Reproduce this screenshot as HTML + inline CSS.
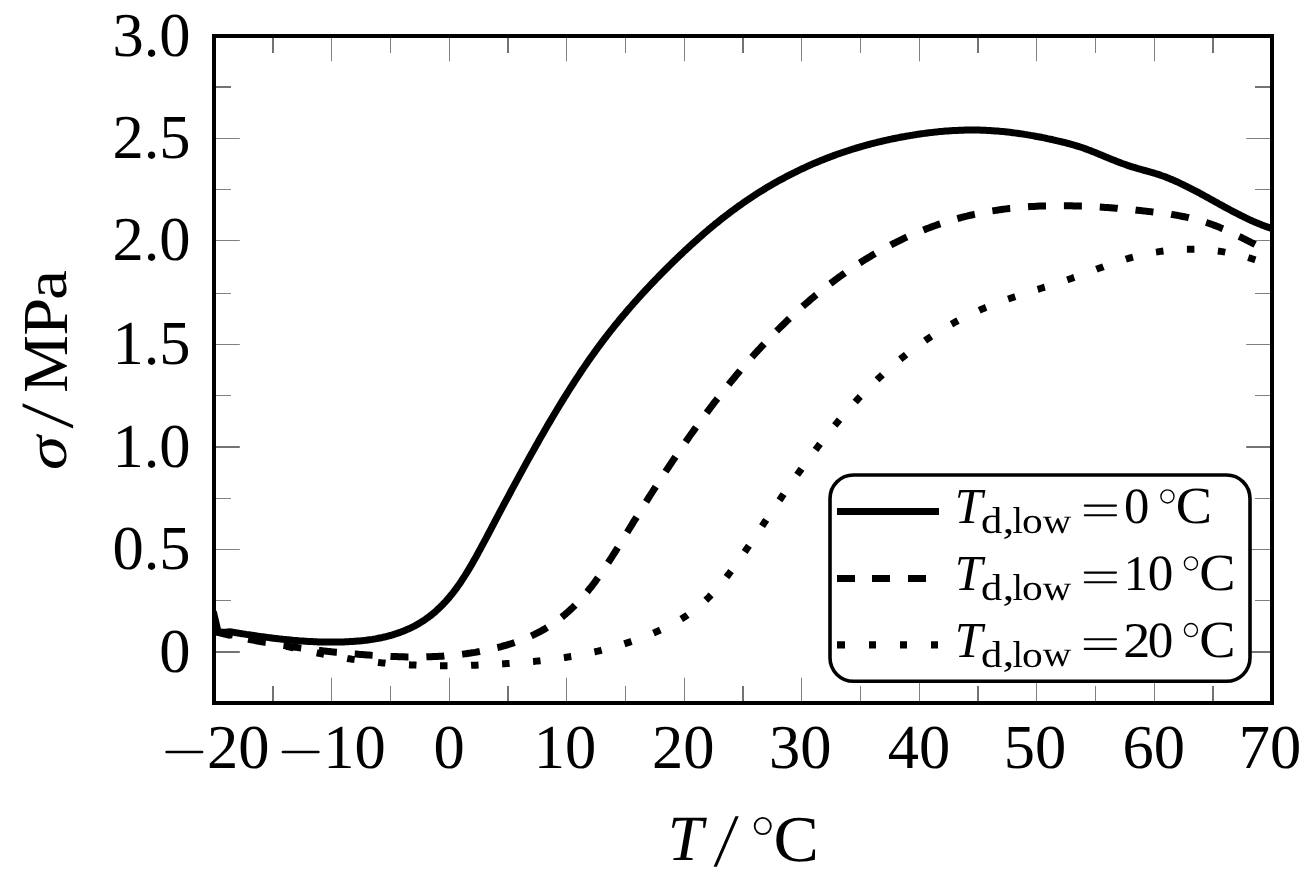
<!DOCTYPE html><html><head><meta charset="utf-8"><style>html,body{margin:0;padding:0;background:#fff;width:1315px;height:883px;overflow:hidden}svg{display:block;will-change:transform}text{font-family:"Liberation Serif",serif;fill:#000;text-rendering:geometricPrecision}</style></head><body>
<svg width="1315" height="883" viewBox="0 0 1315 883">
<rect width="1315" height="883" fill="#fff"/>
<path d="M331.5,703.0 V677.7 M331.5,36.0 V61.3 M390.5,703.0 V686.0 M390.5,36.0 V53.0 M449.5,703.0 V677.7 M449.5,36.0 V61.3 M566.5,703.0 V677.7 M566.5,36.0 V61.3 M625.5,703.0 V686.0 M625.5,36.0 V53.0 M684.5,703.0 V677.7 M684.5,36.0 V61.3 M801.5,703.0 V677.7 M801.5,36.0 V61.3 M860.5,703.0 V686.0 M860.5,36.0 V53.0 M919.5,703.0 V677.7 M919.5,36.0 V61.3 M1036.5,703.0 V677.7 M1036.5,36.0 V61.3 M1095.5,703.0 V686.0 M1095.5,36.0 V53.0 M1154.5,703.0 V677.7 M1154.5,36.0 V61.3 M214.0,138.5 H239.8 M1272.0,138.5 H1246.2 M214.0,189.5 H231.0 M1272.0,189.5 H1255.0 M214.0,240.5 H239.8 M1272.0,240.5 H1246.2 M214.0,293.5 H231.0 M1272.0,293.5 H1255.0 M214.0,344.5 H239.8 M1272.0,344.5 H1246.2 M214.0,395.5 H231.0 M1272.0,395.5 H1255.0 M214.0,498.5 H231.0 M1272.0,498.5 H1255.0 M214.0,549.5 H239.8 M1272.0,549.5 H1246.2 M214.0,600.5 H231.0 M1272.0,600.5 H1255.0" stroke="#808080" stroke-width="1" fill="none"/>
<path d="M273.0,703.0 V686.0 M273.0,36.0 V53.0 M508.0,703.0 V686.0 M508.0,36.0 V53.0 M743.0,703.0 V686.0 M743.0,36.0 V53.0 M978.0,703.0 V686.0 M978.0,36.0 V53.0 M1213.0,703.0 V686.0 M1213.0,36.0 V53.0 M214.0,87.0 H231.0 M1272.0,87.0 H1255.0 M214.0,447.0 H239.8 M1272.0,447.0 H1246.2 M214.0,652.0 H239.8 M1272.0,652.0 H1246.2" stroke="#737373" stroke-width="2" fill="none"/>
<clipPath id="c"><rect x="214.0" y="36.0" width="1058.0" height="667.0"/></clipPath>
<g clip-path="url(#c)" fill="none" stroke="#000" stroke-linejoin="round">
<path d="M214.0,632.0 L215.5,632.2 L217.0,632.5 L218.5,632.7 L220.0,632.9 L221.5,633.2 L223.0,633.4 L224.5,633.7 L226.0,633.9 L227.5,634.2 L229.0,634.5 L230.5,634.7 L232.0,635.0 L233.5,635.3 L235.0,635.6 L236.5,635.9 L238.0,636.1 L239.5,636.4 L241.0,636.7 L242.5,637.0 L244.0,637.3 L245.5,637.6 L247.0,637.9 L248.5,638.2 L250.0,638.5 L251.5,638.8 L253.0,639.1 L254.5,639.4 L256.0,639.8 L257.5,640.1 L259.0,640.4 L260.5,640.7 L262.0,641.0 L263.5,641.3 L265.0,641.7 L266.5,642.0 L268.0,642.3 L269.5,642.6 L271.0,643.0 L272.5,643.3 L274.0,643.6 L275.5,644.0 L277.0,644.3 L278.5,644.6 L280.0,644.9 L281.5,645.3 L283.0,645.6 L284.5,645.9 L286.0,646.3 L287.5,646.6 L289.0,646.9 L290.5,647.2 L292.0,647.6 L293.5,647.9 L295.0,648.2 L296.5,648.5 L298.0,648.9 L299.5,649.2 L301.0,649.5 L302.5,649.8 L304.0,650.2 L305.5,650.5 L307.0,650.8 L308.5,651.1 L310.0,651.4 L311.5,651.7 L313.0,652.1 L314.5,652.4 L316.0,652.7 L317.5,653.0 L319.0,653.3 L320.5,653.6 L322.0,653.9 L323.5,654.2 L325.0,654.5 L326.5,654.8 L328.0,655.0 L329.5,655.3 L331.0,655.6 L332.5,655.9 L334.0,656.2 L335.5,656.4 L337.0,656.7 L338.5,657.0 L340.0,657.2 L341.5,657.5 L343.0,657.7 L344.5,658.0 L346.0,658.2 L347.5,658.5 L349.0,658.7 L350.5,658.9 L352.0,659.2 L353.5,659.4 L355.0,659.6 L356.5,659.8 L358.0,660.0 L359.5,660.2 L361.0,660.5 L362.5,660.6 L364.0,660.8 L365.5,661.0 L367.0,661.2 L368.5,661.4 L370.0,661.6 L371.5,661.8 L373.0,661.9 L374.5,662.1 L376.0,662.3 L377.5,662.4 L379.0,662.6 L380.5,662.7 L382.0,662.9 L383.5,663.0 L385.0,663.1 L386.5,663.3 L388.0,663.4 L389.5,663.5 L391.0,663.7 L392.5,663.8 L394.0,663.9 L395.5,664.0 L397.0,664.1 L398.5,664.2 L400.0,664.3 L401.5,664.4 L403.0,664.5 L404.5,664.6 L406.0,664.7 L407.5,664.8 L409.0,664.8 L410.5,664.9 L412.0,665.0 L413.5,665.1 L415.0,665.1 L416.5,665.2 L418.0,665.2 L419.5,665.3 L421.0,665.4 L422.5,665.4 L424.0,665.4 L425.5,665.5 L427.0,665.5 L428.5,665.6 L430.0,665.6 L431.5,665.6 L433.0,665.7 L434.5,665.7 L436.0,665.7 L437.5,665.7 L439.0,665.7 L440.5,665.7 L442.0,665.7 L443.5,665.7 L445.0,665.8 L446.5,665.7 L448.0,665.7 L449.5,665.7 L451.0,665.7 L452.5,665.7 L454.0,665.7 L455.5,665.7 L457.0,665.7 L458.5,665.6 L460.0,665.6 L461.5,665.6 L463.0,665.6 L464.5,665.5 L466.0,665.5 L467.5,665.4 L469.0,665.4 L470.5,665.4 L472.0,665.3 L473.5,665.3 L475.0,665.2 L476.5,665.2 L478.0,665.1 L479.5,665.0 L481.0,665.0 L482.5,664.9 L484.0,664.8 L485.5,664.8 L487.0,664.7 L488.5,664.6 L490.0,664.6 L491.5,664.5 L493.0,664.4 L494.5,664.3 L496.0,664.2 L497.5,664.1 L499.0,664.1 L500.5,664.0 L502.0,663.9 L503.5,663.8 L505.0,663.7 L506.5,663.6 L508.0,663.5 L509.5,663.4 L511.0,663.3 L512.5,663.2 L514.0,663.1 L515.5,662.9 L517.0,662.8 L518.5,662.7 L520.0,662.6 L521.5,662.5 L523.0,662.4 L524.5,662.2 L526.0,662.1 L527.5,662.0 L529.0,661.8 L530.5,661.7 L532.0,661.5 L533.5,661.4 L535.0,661.3 L536.5,661.1 L538.0,660.9 L539.5,660.8 L541.0,660.6 L542.5,660.5 L544.0,660.3 L545.5,660.1 L547.0,659.9 L548.5,659.8 L550.0,659.6 L551.5,659.4 L553.0,659.2 L554.5,659.0 L556.0,658.8 L557.5,658.6 L559.0,658.4 L560.5,658.2 L562.0,657.9 L563.5,657.7 L565.0,657.5 L566.5,657.2 L568.0,657.0 L569.5,656.8 L571.0,656.5 L572.5,656.3 L574.0,656.0 L575.5,655.7 L577.0,655.5 L578.5,655.2 L580.0,654.9 L581.5,654.6 L583.0,654.3 L584.5,654.0 L586.0,653.7 L587.5,653.4 L589.0,653.1 L590.5,652.8 L592.0,652.5 L593.5,652.1 L595.0,651.8 L596.5,651.4 L598.0,651.1 L599.5,650.7 L601.0,650.4 L602.5,650.0 L604.0,649.6 L605.5,649.2 L607.0,648.9 L608.5,648.5 L610.0,648.0 L611.5,647.6 L613.0,647.2 L614.5,646.8 L616.0,646.4 L617.5,645.9 L619.0,645.5 L620.5,645.0 L622.0,644.6 L623.5,644.1 L625.0,643.6 L626.5,643.1 L628.0,642.6 L629.5,642.1 L631.0,641.6 L632.5,641.1 L634.0,640.6 L635.5,640.1 L637.0,639.5 L638.5,639.0 L640.0,638.4 L641.5,637.9 L643.0,637.3 L644.5,636.7 L646.0,636.1 L647.5,635.5 L649.0,634.9 L650.5,634.3 L652.0,633.7 L653.5,633.0 L655.0,632.4 L656.5,631.7 L658.0,631.1 L659.5,630.4 L661.0,629.7 L662.5,629.0 L664.0,628.3 L665.5,627.6 L667.0,626.9 L668.5,626.1 L670.0,625.4 L671.5,624.6 L673.0,623.8 L674.5,623.0 L676.0,622.1 L677.5,621.3 L679.0,620.4 L680.5,619.5 L682.0,618.6 L683.5,617.6 L685.0,616.7 L686.5,615.7 L688.0,614.6 L689.5,613.6 L691.0,612.5 L692.5,611.4 L694.0,610.3 L695.5,609.1 L697.0,607.9 L698.5,606.7 L700.0,605.4 L701.5,604.1 L703.0,602.8 L704.5,601.4 L706.0,600.0 L707.5,598.6 L709.0,597.1 L710.5,595.5 L712.0,594.0 L713.5,592.4 L715.0,590.7 L716.5,589.1 L718.0,587.4 L719.5,585.6 L721.0,583.8 L722.5,582.0 L724.0,580.2 L725.5,578.3 L727.0,576.4 L728.5,574.5 L730.0,572.5 L731.5,570.5 L733.0,568.5 L734.5,566.4 L736.0,564.4 L737.5,562.3 L739.0,560.2 L740.5,558.0 L742.0,555.9 L743.5,553.7 L745.0,551.5 L746.5,549.3 L748.0,547.1 L749.5,544.9 L751.0,542.7 L752.5,540.4 L754.0,538.2 L755.5,536.0 L757.0,533.7 L758.5,531.4 L760.0,529.2 L761.5,526.9 L763.0,524.7 L764.5,522.4 L766.0,520.2 L767.5,517.9 L769.0,515.7 L770.5,513.5 L772.0,511.2 L773.5,509.0 L775.0,506.8 L776.5,504.6 L778.0,502.4 L779.5,500.2 L781.0,498.0 L782.5,495.8 L784.0,493.6 L785.5,491.4 L787.0,489.2 L788.5,487.1 L790.0,484.9 L791.5,482.8 L793.0,480.7 L794.5,478.5 L796.0,476.4 L797.5,474.3 L799.0,472.2 L800.5,470.1 L802.0,468.0 L803.5,466.0 L805.0,463.9 L806.5,461.8 L808.0,459.8 L809.5,457.8 L811.0,455.8 L812.5,453.8 L814.0,451.8 L815.5,449.8 L817.0,447.8 L818.5,445.9 L820.0,443.9 L821.5,442.0 L823.0,440.1 L824.5,438.1 L826.0,436.3 L827.5,434.4 L829.0,432.5 L830.5,430.6 L832.0,428.8 L833.5,427.0 L835.0,425.2 L836.5,423.3 L838.0,421.6 L839.5,419.8 L841.0,418.0 L842.5,416.3 L844.0,414.5 L845.5,412.8 L847.0,411.1 L848.5,409.4 L850.0,407.7 L851.5,406.1 L853.0,404.4 L854.5,402.8 L856.0,401.1 L857.5,399.5 L859.0,397.9 L860.5,396.3 L862.0,394.8 L863.5,393.2 L865.0,391.7 L866.5,390.1 L868.0,388.6 L869.5,387.1 L871.0,385.6 L872.5,384.2 L874.0,382.7 L875.5,381.3 L877.0,379.8 L878.5,378.4 L880.0,377.0 L881.5,375.6 L883.0,374.2 L884.5,372.9 L886.0,371.5 L887.5,370.2 L889.0,368.8 L890.5,367.5 L892.0,366.2 L893.5,364.9 L895.0,363.6 L896.5,362.4 L898.0,361.1 L899.5,359.9 L901.0,358.7 L902.5,357.4 L904.0,356.2 L905.5,355.1 L907.0,353.9 L908.5,352.7 L910.0,351.6 L911.5,350.4 L913.0,349.3 L914.5,348.2 L916.0,347.1 L917.5,346.0 L919.0,344.9 L920.5,343.8 L922.0,342.7 L923.5,341.7 L925.0,340.7 L926.5,339.6 L928.0,338.6 L929.5,337.6 L931.0,336.6 L932.5,335.6 L934.0,334.7 L935.5,333.7 L937.0,332.8 L938.5,331.8 L940.0,330.9 L941.5,330.0 L943.0,329.1 L944.5,328.2 L946.0,327.3 L947.5,326.4 L949.0,325.6 L950.5,324.7 L952.0,323.9 L953.5,323.0 L955.0,322.2 L956.5,321.4 L958.0,320.6 L959.5,319.8 L961.0,319.0 L962.5,318.3 L964.0,317.5 L965.5,316.7 L967.0,316.0 L968.5,315.3 L970.0,314.5 L971.5,313.8 L973.0,313.1 L974.5,312.4 L976.0,311.7 L977.5,311.1 L979.0,310.4 L980.5,309.7 L982.0,309.1 L983.5,308.5 L985.0,307.8 L986.5,307.2 L988.0,306.6 L989.5,306.0 L991.0,305.4 L992.5,304.8 L994.0,304.2 L995.5,303.6 L997.0,303.1 L998.5,302.5 L1000.0,301.9 L1001.5,301.4 L1003.0,300.8 L1004.5,300.3 L1006.0,299.8 L1007.5,299.2 L1009.0,298.7 L1010.5,298.2 L1012.0,297.7 L1013.5,297.2 L1015.0,296.7 L1016.5,296.2 L1018.0,295.7 L1019.5,295.2 L1021.0,294.7 L1022.5,294.2 L1024.0,293.7 L1025.5,293.2 L1027.0,292.8 L1028.5,292.3 L1030.0,291.8 L1031.5,291.3 L1033.0,290.9 L1034.5,290.4 L1036.0,289.9 L1037.5,289.4 L1039.0,289.0 L1040.5,288.5 L1042.0,288.0 L1043.5,287.5 L1045.0,287.1 L1046.5,286.6 L1048.0,286.1 L1049.5,285.6 L1051.0,285.2 L1052.5,284.7 L1054.0,284.2 L1055.5,283.7 L1057.0,283.2 L1058.5,282.7 L1060.0,282.2 L1061.5,281.8 L1063.0,281.3 L1064.5,280.7 L1066.0,280.2 L1067.5,279.7 L1069.0,279.2 L1070.5,278.7 L1072.0,278.2 L1073.5,277.6 L1075.0,277.1 L1076.5,276.6 L1078.0,276.0 L1079.5,275.5 L1081.0,274.9 L1082.5,274.4 L1084.0,273.8 L1085.5,273.3 L1087.0,272.7 L1088.5,272.2 L1090.0,271.6 L1091.5,271.1 L1093.0,270.5 L1094.5,269.9 L1096.0,269.4 L1097.5,268.8 L1099.0,268.3 L1100.5,267.7 L1102.0,267.2 L1103.5,266.6 L1105.0,266.1 L1106.5,265.6 L1108.0,265.0 L1109.5,264.5 L1111.0,264.0 L1112.5,263.5 L1114.0,263.0 L1115.5,262.5 L1117.0,262.0 L1118.5,261.5 L1120.0,261.0 L1121.5,260.5 L1123.0,260.0 L1124.5,259.6 L1126.0,259.1 L1127.5,258.7 L1129.0,258.2 L1130.5,257.8 L1132.0,257.4 L1133.5,257.0 L1135.0,256.6 L1136.5,256.2 L1138.0,255.8 L1139.5,255.5 L1141.0,255.1 L1142.5,254.8 L1144.0,254.4 L1145.5,254.1 L1147.0,253.8 L1148.5,253.5 L1150.0,253.2 L1151.5,252.9 L1153.0,252.6 L1154.5,252.4 L1156.0,252.1 L1157.5,251.9 L1159.0,251.6 L1160.5,251.4 L1162.0,251.2 L1163.5,251.0 L1165.0,250.8 L1166.5,250.6 L1168.0,250.4 L1169.5,250.3 L1171.0,250.1 L1172.5,250.0 L1174.0,249.9 L1175.5,249.8 L1177.0,249.7 L1178.5,249.6 L1180.0,249.5 L1181.5,249.4 L1183.0,249.3 L1184.5,249.3 L1186.0,249.2 L1187.5,249.2 L1189.0,249.2 L1190.5,249.2 L1192.0,249.2 L1193.5,249.2 L1195.0,249.2 L1196.5,249.3 L1198.0,249.3 L1199.5,249.4 L1201.0,249.4 L1202.5,249.5 L1204.0,249.6 L1205.5,249.7 L1207.0,249.8 L1208.5,250.0 L1210.0,250.1 L1211.5,250.3 L1213.0,250.4 L1214.5,250.6 L1216.0,250.8 L1217.5,251.0 L1219.0,251.2 L1220.5,251.4 L1222.0,251.6 L1223.5,251.9 L1225.0,252.1 L1226.5,252.4 L1228.0,252.7 L1229.5,253.0 L1231.0,253.3 L1232.5,253.6 L1234.0,253.9 L1235.5,254.2 L1237.0,254.6 L1238.5,254.9 L1240.0,255.3 L1241.5,255.7 L1243.0,256.1 L1244.5,256.5 L1246.0,256.9 L1247.5,257.3 L1249.0,257.8 L1250.5,258.2 L1252.0,258.7 L1253.5,259.2 L1255.0,259.7 L1256.5,260.2 L1258.0,260.7 L1259.5,261.2 L1261.0,261.8 L1262.5,262.3 L1264.0,262.9 L1265.5,263.5 L1267.0,264.1 L1268.5,264.7 L1270.0,265.3 L1271.5,265.9 L1272.0,266.1" stroke-width="7.0" stroke-dasharray="7.5 23.570" stroke-dashoffset="19.466"/>
<path d="M214.0,631.4 L215.5,631.8 L217.0,632.2 L218.5,632.5 L220.0,632.9 L221.5,633.3 L223.0,633.6 L224.5,634.0 L226.0,634.3 L227.5,634.7 L229.0,635.0 L230.5,635.4 L232.0,635.7 L233.5,636.0 L235.0,636.4 L236.5,636.7 L238.0,637.0 L239.5,637.3 L241.0,637.7 L242.5,638.0 L244.0,638.3 L245.5,638.6 L247.0,638.9 L248.5,639.2 L250.0,639.5 L251.5,639.8 L253.0,640.1 L254.5,640.4 L256.0,640.7 L257.5,641.0 L259.0,641.3 L260.5,641.5 L262.0,641.8 L263.5,642.1 L265.0,642.4 L266.5,642.6 L268.0,642.9 L269.5,643.2 L271.0,643.4 L272.5,643.7 L274.0,643.9 L275.5,644.2 L277.0,644.4 L278.5,644.7 L280.0,644.9 L281.5,645.2 L283.0,645.4 L284.5,645.6 L286.0,645.9 L287.5,646.1 L289.0,646.3 L290.5,646.6 L292.0,646.8 L293.5,647.0 L295.0,647.2 L296.5,647.4 L298.0,647.6 L299.5,647.9 L301.0,648.1 L302.5,648.3 L304.0,648.5 L305.5,648.7 L307.0,648.9 L308.5,649.1 L310.0,649.3 L311.5,649.4 L313.0,649.6 L314.5,649.8 L316.0,650.0 L317.5,650.2 L319.0,650.4 L320.5,650.5 L322.0,650.7 L323.5,650.9 L325.0,651.1 L326.5,651.2 L328.0,651.4 L329.5,651.5 L331.0,651.7 L332.5,651.9 L334.0,652.0 L335.5,652.2 L337.0,652.3 L338.5,652.5 L340.0,652.6 L341.5,652.8 L343.0,652.9 L344.5,653.1 L346.0,653.2 L347.5,653.3 L349.0,653.5 L350.5,653.6 L352.0,653.7 L353.5,653.9 L355.0,654.0 L356.5,654.1 L358.0,654.2 L359.5,654.4 L361.0,654.5 L362.5,654.6 L364.0,654.7 L365.5,654.8 L367.0,654.9 L368.5,655.0 L370.0,655.1 L371.5,655.3 L373.0,655.4 L374.5,655.5 L376.0,655.6 L377.5,655.6 L379.0,655.7 L380.5,655.8 L382.0,655.9 L383.5,656.0 L385.0,656.1 L386.5,656.2 L388.0,656.2 L389.5,656.3 L391.0,656.4 L392.5,656.4 L394.0,656.5 L395.5,656.6 L397.0,656.6 L398.5,656.7 L400.0,656.7 L401.5,656.8 L403.0,656.8 L404.5,656.8 L406.0,656.9 L407.5,656.9 L409.0,656.9 L410.5,656.9 L412.0,656.9 L413.5,657.0 L415.0,657.0 L416.5,657.0 L418.0,657.0 L419.5,656.9 L421.0,656.9 L422.5,656.9 L424.0,656.9 L425.5,656.9 L427.0,656.8 L428.5,656.8 L430.0,656.7 L431.5,656.7 L433.0,656.6 L434.5,656.6 L436.0,656.5 L437.5,656.4 L439.0,656.3 L440.5,656.2 L442.0,656.2 L443.5,656.1 L445.0,655.9 L446.5,655.8 L448.0,655.7 L449.5,655.6 L451.0,655.5 L452.5,655.3 L454.0,655.2 L455.5,655.0 L457.0,654.9 L458.5,654.7 L460.0,654.5 L461.5,654.3 L463.0,654.1 L464.5,653.9 L466.0,653.7 L467.5,653.5 L469.0,653.3 L470.5,653.1 L472.0,652.8 L473.5,652.6 L475.0,652.4 L476.5,652.1 L478.0,651.8 L479.5,651.6 L481.0,651.3 L482.5,651.0 L484.0,650.7 L485.5,650.4 L487.0,650.0 L488.5,649.7 L490.0,649.4 L491.5,649.0 L493.0,648.7 L494.5,648.3 L496.0,647.9 L497.5,647.6 L499.0,647.2 L500.5,646.8 L502.0,646.4 L503.5,645.9 L505.0,645.5 L506.5,645.1 L508.0,644.6 L509.5,644.2 L511.0,643.7 L512.5,643.2 L514.0,642.7 L515.5,642.2 L517.0,641.7 L518.5,641.2 L520.0,640.6 L521.5,640.0 L523.0,639.5 L524.5,638.9 L526.0,638.2 L527.5,637.6 L529.0,637.0 L530.5,636.3 L532.0,635.6 L533.5,634.9 L535.0,634.2 L536.5,633.4 L538.0,632.7 L539.5,631.9 L541.0,631.1 L542.5,630.2 L544.0,629.4 L545.5,628.5 L547.0,627.6 L548.5,626.6 L550.0,625.7 L551.5,624.7 L553.0,623.7 L554.5,622.6 L556.0,621.5 L557.5,620.4 L559.0,619.3 L560.5,618.2 L562.0,617.0 L563.5,615.7 L565.0,614.5 L566.5,613.2 L568.0,611.9 L569.5,610.5 L571.0,609.1 L572.5,607.7 L574.0,606.3 L575.5,604.8 L577.0,603.2 L578.5,601.7 L580.0,600.1 L581.5,598.4 L583.0,596.8 L584.5,595.0 L586.0,593.3 L587.5,591.5 L589.0,589.6 L590.5,587.8 L592.0,585.8 L593.5,583.9 L595.0,581.9 L596.5,579.8 L598.0,577.7 L599.5,575.6 L601.0,573.5 L602.5,571.3 L604.0,569.1 L605.5,566.8 L607.0,564.5 L608.5,562.2 L610.0,559.9 L611.5,557.6 L613.0,555.2 L614.5,552.8 L616.0,550.5 L617.5,548.0 L619.0,545.6 L620.5,543.2 L622.0,540.8 L623.5,538.3 L625.0,535.9 L626.5,533.4 L628.0,531.0 L629.5,528.5 L631.0,526.1 L632.5,523.6 L634.0,521.2 L635.5,518.8 L637.0,516.4 L638.5,513.9 L640.0,511.5 L641.5,509.1 L643.0,506.7 L644.5,504.4 L646.0,502.0 L647.5,499.6 L649.0,497.2 L650.5,494.9 L652.0,492.5 L653.5,490.2 L655.0,487.8 L656.5,485.5 L658.0,483.2 L659.5,480.9 L661.0,478.6 L662.5,476.3 L664.0,474.0 L665.5,471.7 L667.0,469.4 L668.5,467.2 L670.0,464.9 L671.5,462.7 L673.0,460.4 L674.5,458.2 L676.0,456.0 L677.5,453.8 L679.0,451.6 L680.5,449.4 L682.0,447.2 L683.5,445.0 L685.0,442.9 L686.5,440.7 L688.0,438.6 L689.5,436.4 L691.0,434.3 L692.5,432.2 L694.0,430.1 L695.5,428.0 L697.0,425.9 L698.5,423.8 L700.0,421.8 L701.5,419.7 L703.0,417.7 L704.5,415.7 L706.0,413.6 L707.5,411.6 L709.0,409.6 L710.5,407.6 L712.0,405.7 L713.5,403.7 L715.0,401.7 L716.5,399.8 L718.0,397.9 L719.5,395.9 L721.0,394.0 L722.5,392.1 L724.0,390.3 L725.5,388.4 L727.0,386.5 L728.5,384.7 L730.0,382.8 L731.5,381.0 L733.0,379.2 L734.5,377.4 L736.0,375.6 L737.5,373.8 L739.0,372.0 L740.5,370.2 L742.0,368.5 L743.5,366.7 L745.0,365.0 L746.5,363.3 L748.0,361.6 L749.5,359.9 L751.0,358.2 L752.5,356.5 L754.0,354.8 L755.5,353.2 L757.0,351.5 L758.5,349.9 L760.0,348.3 L761.5,346.7 L763.0,345.1 L764.5,343.5 L766.0,341.9 L767.5,340.3 L769.0,338.8 L770.5,337.2 L772.0,335.7 L773.5,334.1 L775.0,332.6 L776.5,331.1 L778.0,329.6 L779.5,328.1 L781.0,326.6 L782.5,325.2 L784.0,323.7 L785.5,322.3 L787.0,320.8 L788.5,319.4 L790.0,318.0 L791.5,316.6 L793.0,315.2 L794.5,313.8 L796.0,312.4 L797.5,311.1 L799.0,309.7 L800.5,308.3 L802.0,307.0 L803.5,305.7 L805.0,304.4 L806.5,303.1 L808.0,301.8 L809.5,300.5 L811.0,299.2 L812.5,297.9 L814.0,296.7 L815.5,295.4 L817.0,294.2 L818.5,293.0 L820.0,291.8 L821.5,290.5 L823.0,289.3 L824.5,288.2 L826.0,287.0 L827.5,285.8 L829.0,284.6 L830.5,283.5 L832.0,282.4 L833.5,281.2 L835.0,280.1 L836.5,279.0 L838.0,277.9 L839.5,276.8 L841.0,275.7 L842.5,274.6 L844.0,273.6 L845.5,272.5 L847.0,271.5 L848.5,270.4 L850.0,269.4 L851.5,268.4 L853.0,267.4 L854.5,266.4 L856.0,265.4 L857.5,264.4 L859.0,263.4 L860.5,262.5 L862.0,261.5 L863.5,260.6 L865.0,259.6 L866.5,258.7 L868.0,257.8 L869.5,256.9 L871.0,256.0 L872.5,255.1 L874.0,254.2 L875.5,253.3 L877.0,252.5 L878.5,251.6 L880.0,250.8 L881.5,249.9 L883.0,249.1 L884.5,248.3 L886.0,247.5 L887.5,246.7 L889.0,245.9 L890.5,245.1 L892.0,244.3 L893.5,243.5 L895.0,242.8 L896.5,242.0 L898.0,241.3 L899.5,240.6 L901.0,239.8 L902.5,239.1 L904.0,238.4 L905.5,237.7 L907.0,237.0 L908.5,236.3 L910.0,235.7 L911.5,235.0 L913.0,234.3 L914.5,233.7 L916.0,233.1 L917.5,232.4 L919.0,231.8 L920.5,231.2 L922.0,230.6 L923.5,230.0 L925.0,229.4 L926.5,228.8 L928.0,228.2 L929.5,227.7 L931.0,227.1 L932.5,226.6 L934.0,226.0 L935.5,225.5 L937.0,224.9 L938.5,224.4 L940.0,223.9 L941.5,223.4 L943.0,222.9 L944.5,222.4 L946.0,222.0 L947.5,221.5 L949.0,221.0 L950.5,220.6 L952.0,220.1 L953.5,219.7 L955.0,219.2 L956.5,218.8 L958.0,218.4 L959.5,218.0 L961.0,217.6 L962.5,217.2 L964.0,216.8 L965.5,216.4 L967.0,216.1 L968.5,215.7 L970.0,215.3 L971.5,215.0 L973.0,214.7 L974.5,214.3 L976.0,214.0 L977.5,213.7 L979.0,213.4 L980.5,213.1 L982.0,212.8 L983.5,212.5 L985.0,212.2 L986.5,211.9 L988.0,211.6 L989.5,211.4 L991.0,211.1 L992.5,210.9 L994.0,210.6 L995.5,210.4 L997.0,210.2 L998.5,209.9 L1000.0,209.7 L1001.5,209.5 L1003.0,209.3 L1004.5,209.1 L1006.0,208.9 L1007.5,208.7 L1009.0,208.5 L1010.5,208.4 L1012.0,208.2 L1013.5,208.0 L1015.0,207.9 L1016.5,207.7 L1018.0,207.6 L1019.5,207.4 L1021.0,207.3 L1022.5,207.2 L1024.0,207.1 L1025.5,206.9 L1027.0,206.8 L1028.5,206.7 L1030.0,206.6 L1031.5,206.5 L1033.0,206.4 L1034.5,206.4 L1036.0,206.3 L1037.5,206.2 L1039.0,206.1 L1040.5,206.1 L1042.0,206.0 L1043.5,206.0 L1045.0,205.9 L1046.5,205.9 L1048.0,205.8 L1049.5,205.8 L1051.0,205.8 L1052.5,205.8 L1054.0,205.7 L1055.5,205.7 L1057.0,205.7 L1058.5,205.7 L1060.0,205.7 L1061.5,205.7 L1063.0,205.7 L1064.5,205.7 L1066.0,205.7 L1067.5,205.7 L1069.0,205.8 L1070.5,205.8 L1072.0,205.8 L1073.5,205.9 L1075.0,205.9 L1076.5,205.9 L1078.0,206.0 L1079.5,206.0 L1081.0,206.1 L1082.5,206.1 L1084.0,206.2 L1085.5,206.3 L1087.0,206.3 L1088.5,206.4 L1090.0,206.5 L1091.5,206.6 L1093.0,206.6 L1094.5,206.7 L1096.0,206.8 L1097.5,206.9 L1099.0,207.0 L1100.5,207.1 L1102.0,207.2 L1103.5,207.3 L1105.0,207.4 L1106.5,207.5 L1108.0,207.6 L1109.5,207.7 L1111.0,207.8 L1112.5,208.0 L1114.0,208.1 L1115.5,208.2 L1117.0,208.3 L1118.5,208.5 L1120.0,208.6 L1121.5,208.7 L1123.0,208.9 L1124.5,209.0 L1126.0,209.1 L1127.5,209.3 L1129.0,209.4 L1130.5,209.6 L1132.0,209.7 L1133.5,209.9 L1135.0,210.0 L1136.5,210.2 L1138.0,210.3 L1139.5,210.5 L1141.0,210.6 L1142.5,210.8 L1144.0,210.9 L1145.5,211.1 L1147.0,211.3 L1148.5,211.4 L1150.0,211.6 L1151.5,211.8 L1153.0,211.9 L1154.5,212.1 L1156.0,212.3 L1157.5,212.5 L1159.0,212.7 L1160.5,212.9 L1162.0,213.1 L1163.5,213.3 L1165.0,213.5 L1166.5,213.7 L1168.0,213.9 L1169.5,214.1 L1171.0,214.3 L1172.5,214.6 L1174.0,214.8 L1175.5,215.1 L1177.0,215.3 L1178.5,215.6 L1180.0,215.9 L1181.5,216.2 L1183.0,216.5 L1184.5,216.8 L1186.0,217.1 L1187.5,217.4 L1189.0,217.8 L1190.5,218.1 L1192.0,218.5 L1193.5,218.8 L1195.0,219.2 L1196.5,219.6 L1198.0,220.0 L1199.5,220.4 L1201.0,220.8 L1202.5,221.3 L1204.0,221.7 L1205.5,222.2 L1207.0,222.7 L1208.5,223.2 L1210.0,223.7 L1211.5,224.3 L1213.0,224.8 L1214.5,225.4 L1216.0,225.9 L1217.5,226.5 L1219.0,227.1 L1220.5,227.8 L1222.0,228.4 L1223.5,229.0 L1225.0,229.7 L1226.5,230.4 L1228.0,231.1 L1229.5,231.7 L1231.0,232.4 L1232.5,233.2 L1234.0,233.9 L1235.5,234.6 L1237.0,235.3 L1238.5,236.1 L1240.0,236.8 L1241.5,237.5 L1243.0,238.3 L1244.5,239.0 L1246.0,239.8 L1247.5,240.6 L1249.0,241.3 L1250.5,242.1 L1252.0,242.8 L1253.5,243.6 L1255.0,244.3 L1256.5,245.1 L1258.0,245.8 L1259.5,246.6 L1261.0,247.3 L1262.5,248.0 L1264.0,248.8 L1265.5,249.5 L1267.0,250.2 L1268.5,250.9 L1270.0,251.6 L1271.5,252.3 L1272.0,252.5" stroke-width="7.0" stroke-dasharray="18.0 17.899" stroke-dashoffset="0.899"/>
<path d="M213.3,611.5 L218.0,631.2 L222.0,632.3 L226.0,632.2 L229.8,631.7 L231.3,631.9 L232.8,632.2 L234.3,632.4 L235.8,632.7 L237.3,632.9 L238.8,633.2 L240.3,633.4 L241.8,633.7 L243.3,633.9 L244.8,634.1 L246.3,634.4 L247.8,634.6 L249.3,634.8 L250.8,635.1 L252.3,635.3 L253.8,635.5 L255.3,635.7 L256.8,636.0 L258.3,636.2 L259.8,636.4 L261.3,636.6 L262.8,636.8 L264.3,637.0 L265.8,637.2 L267.3,637.4 L268.8,637.6 L270.3,637.8 L271.8,638.0 L273.3,638.2 L274.8,638.4 L276.3,638.5 L277.8,638.7 L279.3,638.9 L280.8,639.1 L282.3,639.2 L283.8,639.4 L285.3,639.5 L286.8,639.7 L288.3,639.8 L289.8,640.0 L291.3,640.1 L292.8,640.3 L294.3,640.4 L295.8,640.5 L297.3,640.6 L298.8,640.8 L300.3,640.9 L301.8,641.0 L303.3,641.1 L304.8,641.2 L306.3,641.3 L307.8,641.4 L309.3,641.5 L310.8,641.5 L312.3,641.6 L313.8,641.7 L315.3,641.8 L316.8,641.8 L318.3,641.9 L319.8,641.9 L321.3,642.0 L322.8,642.0 L324.3,642.0 L325.8,642.1 L327.3,642.1 L328.8,642.1 L330.3,642.1 L331.8,642.1 L333.3,642.1 L334.8,642.1 L336.3,642.1 L337.8,642.0 L339.3,642.0 L340.8,642.0 L342.3,641.9 L343.8,641.9 L345.3,641.8 L346.8,641.8 L348.3,641.7 L349.8,641.6 L351.3,641.5 L352.8,641.4 L354.3,641.3 L355.8,641.2 L357.3,641.1 L358.8,641.0 L360.3,640.9 L361.8,640.7 L363.3,640.6 L364.8,640.4 L366.3,640.2 L367.8,640.0 L369.3,639.8 L370.8,639.6 L372.3,639.4 L373.8,639.1 L375.3,638.9 L376.8,638.6 L378.3,638.3 L379.8,638.0 L381.3,637.7 L382.8,637.4 L384.3,637.0 L385.8,636.7 L387.3,636.3 L388.8,635.9 L390.3,635.5 L391.8,635.1 L393.3,634.6 L394.8,634.1 L396.3,633.7 L397.8,633.1 L399.3,632.6 L400.8,632.1 L402.3,631.5 L403.8,630.9 L405.3,630.3 L406.8,629.6 L408.3,629.0 L409.8,628.3 L411.3,627.6 L412.8,626.8 L414.3,626.1 L415.8,625.3 L417.3,624.4 L418.8,623.6 L420.3,622.7 L421.8,621.7 L423.3,620.8 L424.8,619.8 L426.3,618.7 L427.8,617.7 L429.3,616.5 L430.8,615.4 L432.3,614.2 L433.8,612.9 L435.3,611.7 L436.8,610.3 L438.3,608.9 L439.8,607.5 L441.3,606.0 L442.8,604.5 L444.3,602.9 L445.8,601.3 L447.3,599.6 L448.8,597.9 L450.3,596.1 L451.8,594.3 L453.3,592.4 L454.8,590.4 L456.3,588.4 L457.8,586.3 L459.3,584.2 L460.8,582.0 L462.3,579.7 L463.8,577.4 L465.3,575.0 L466.8,572.6 L468.3,570.1 L469.8,567.6 L471.3,565.1 L472.8,562.5 L474.3,559.8 L475.8,557.2 L477.3,554.5 L478.8,551.7 L480.3,549.0 L481.8,546.2 L483.3,543.4 L484.8,540.6 L486.3,537.8 L487.8,535.0 L489.3,532.1 L490.8,529.3 L492.3,526.4 L493.8,523.6 L495.3,520.7 L496.8,517.9 L498.3,515.0 L499.8,512.2 L501.3,509.4 L502.8,506.5 L504.3,503.7 L505.8,500.9 L507.3,498.1 L508.8,495.3 L510.3,492.5 L511.8,489.7 L513.3,486.9 L514.8,484.1 L516.3,481.3 L517.8,478.6 L519.3,475.8 L520.8,473.1 L522.3,470.3 L523.8,467.6 L525.3,464.9 L526.8,462.1 L528.3,459.4 L529.8,456.7 L531.3,454.0 L532.8,451.4 L534.3,448.7 L535.8,446.0 L537.3,443.4 L538.8,440.7 L540.3,438.1 L541.8,435.5 L543.3,432.9 L544.8,430.3 L546.3,427.7 L547.8,425.1 L549.3,422.6 L550.8,420.0 L552.3,417.5 L553.8,415.0 L555.3,412.5 L556.8,410.0 L558.3,407.5 L559.8,405.0 L561.3,402.6 L562.8,400.1 L564.3,397.7 L565.8,395.3 L567.3,392.9 L568.8,390.5 L570.3,388.2 L571.8,385.8 L573.3,383.5 L574.8,381.2 L576.3,378.8 L577.8,376.6 L579.3,374.3 L580.8,372.0 L582.3,369.8 L583.8,367.6 L585.3,365.4 L586.8,363.2 L588.3,361.0 L589.8,358.9 L591.3,356.8 L592.8,354.7 L594.3,352.6 L595.8,350.5 L597.3,348.4 L598.8,346.4 L600.3,344.4 L601.8,342.4 L603.3,340.4 L604.8,338.4 L606.3,336.5 L607.8,334.5 L609.3,332.6 L610.8,330.7 L612.3,328.8 L613.8,326.9 L615.3,325.0 L616.8,323.2 L618.3,321.4 L619.8,319.5 L621.3,317.7 L622.8,315.9 L624.3,314.2 L625.8,312.4 L627.3,310.6 L628.8,308.9 L630.3,307.2 L631.8,305.5 L633.3,303.7 L634.8,302.0 L636.3,300.4 L637.8,298.7 L639.3,297.0 L640.8,295.4 L642.3,293.7 L643.8,292.1 L645.3,290.5 L646.8,288.9 L648.3,287.3 L649.8,285.7 L651.3,284.1 L652.8,282.5 L654.3,281.0 L655.8,279.4 L657.3,277.9 L658.8,276.3 L660.3,274.8 L661.8,273.3 L663.3,271.7 L664.8,270.2 L666.3,268.7 L667.8,267.2 L669.3,265.7 L670.8,264.3 L672.3,262.8 L673.8,261.3 L675.3,259.9 L676.8,258.4 L678.3,257.0 L679.8,255.5 L681.3,254.1 L682.8,252.7 L684.3,251.3 L685.8,249.9 L687.3,248.5 L688.8,247.1 L690.3,245.7 L691.8,244.3 L693.3,243.0 L694.8,241.6 L696.3,240.3 L697.8,239.0 L699.3,237.6 L700.8,236.3 L702.3,235.0 L703.8,233.7 L705.3,232.4 L706.8,231.1 L708.3,229.8 L709.8,228.6 L711.3,227.3 L712.8,226.1 L714.3,224.8 L715.8,223.6 L717.3,222.4 L718.8,221.2 L720.3,220.0 L721.8,218.8 L723.3,217.6 L724.8,216.5 L726.3,215.3 L727.8,214.2 L729.3,213.0 L730.8,211.9 L732.3,210.8 L733.8,209.7 L735.3,208.6 L736.8,207.5 L738.3,206.4 L739.8,205.3 L741.3,204.3 L742.8,203.2 L744.3,202.2 L745.8,201.1 L747.3,200.1 L748.8,199.1 L750.3,198.1 L751.8,197.1 L753.3,196.1 L754.8,195.1 L756.3,194.2 L757.8,193.2 L759.3,192.2 L760.8,191.3 L762.3,190.4 L763.8,189.5 L765.3,188.5 L766.8,187.6 L768.3,186.7 L769.8,185.8 L771.3,185.0 L772.8,184.1 L774.3,183.2 L775.8,182.4 L777.3,181.5 L778.8,180.7 L780.3,179.9 L781.8,179.1 L783.3,178.3 L784.8,177.5 L786.3,176.7 L787.8,175.9 L789.3,175.1 L790.8,174.3 L792.3,173.6 L793.8,172.8 L795.3,172.1 L796.8,171.3 L798.3,170.6 L799.8,169.9 L801.3,169.2 L802.8,168.5 L804.3,167.8 L805.8,167.1 L807.3,166.4 L808.8,165.7 L810.3,165.1 L811.8,164.4 L813.3,163.7 L814.8,163.1 L816.3,162.5 L817.8,161.8 L819.3,161.2 L820.8,160.6 L822.3,160.0 L823.8,159.4 L825.3,158.8 L826.8,158.2 L828.3,157.6 L829.8,157.1 L831.3,156.5 L832.8,155.9 L834.3,155.4 L835.8,154.8 L837.3,154.3 L838.8,153.8 L840.3,153.2 L841.8,152.7 L843.3,152.2 L844.8,151.7 L846.3,151.2 L847.8,150.7 L849.3,150.2 L850.8,149.8 L852.3,149.3 L853.8,148.8 L855.3,148.4 L856.8,147.9 L858.3,147.5 L859.8,147.0 L861.3,146.6 L862.8,146.2 L864.3,145.7 L865.8,145.3 L867.3,144.9 L868.8,144.5 L870.3,144.1 L871.8,143.7 L873.3,143.3 L874.8,142.9 L876.3,142.6 L877.8,142.2 L879.3,141.8 L880.8,141.5 L882.3,141.1 L883.8,140.8 L885.3,140.4 L886.8,140.1 L888.3,139.8 L889.8,139.4 L891.3,139.1 L892.8,138.8 L894.3,138.5 L895.8,138.2 L897.3,137.9 L898.8,137.6 L900.3,137.3 L901.8,137.0 L903.3,136.7 L904.8,136.5 L906.3,136.2 L907.8,135.9 L909.3,135.7 L910.8,135.4 L912.3,135.2 L913.8,134.9 L915.3,134.7 L916.8,134.4 L918.3,134.2 L919.8,134.0 L921.3,133.8 L922.8,133.6 L924.3,133.4 L925.8,133.2 L927.3,133.0 L928.8,132.8 L930.3,132.6 L931.8,132.4 L933.3,132.3 L934.8,132.1 L936.3,131.9 L937.8,131.8 L939.3,131.6 L940.8,131.5 L942.3,131.4 L943.8,131.2 L945.3,131.1 L946.8,131.0 L948.3,130.9 L949.8,130.8 L951.3,130.7 L952.8,130.6 L954.3,130.5 L955.8,130.4 L957.3,130.4 L958.8,130.3 L960.3,130.2 L961.8,130.2 L963.3,130.2 L964.8,130.1 L966.3,130.1 L967.8,130.1 L969.3,130.0 L970.8,130.0 L972.3,130.0 L973.8,130.0 L975.3,130.1 L976.8,130.1 L978.3,130.1 L979.8,130.1 L981.3,130.2 L982.8,130.2 L984.3,130.3 L985.8,130.3 L987.3,130.4 L988.8,130.5 L990.3,130.6 L991.8,130.7 L993.3,130.8 L994.8,130.9 L996.3,131.0 L997.8,131.1 L999.3,131.2 L1000.8,131.4 L1002.3,131.5 L1003.8,131.6 L1005.3,131.8 L1006.8,132.0 L1008.3,132.1 L1009.8,132.3 L1011.3,132.5 L1012.8,132.7 L1014.3,132.9 L1015.8,133.1 L1017.3,133.3 L1018.8,133.5 L1020.3,133.7 L1021.8,133.9 L1023.3,134.1 L1024.8,134.4 L1026.3,134.6 L1027.8,134.9 L1029.3,135.1 L1030.8,135.4 L1032.3,135.6 L1033.8,135.9 L1035.3,136.2 L1036.8,136.5 L1038.3,136.7 L1039.8,137.0 L1041.3,137.3 L1042.8,137.6 L1044.3,137.9 L1045.8,138.2 L1047.3,138.6 L1048.8,138.9 L1050.3,139.2 L1051.8,139.5 L1053.3,139.9 L1054.8,140.2 L1056.3,140.6 L1057.8,140.9 L1059.3,141.3 L1060.8,141.6 L1062.3,142.0 L1063.8,142.3 L1065.3,142.7 L1066.8,143.1 L1068.3,143.5 L1069.8,143.9 L1071.3,144.3 L1072.8,144.7 L1074.3,145.2 L1075.8,145.6 L1077.3,146.1 L1078.8,146.5 L1080.3,147.0 L1081.8,147.5 L1083.3,148.0 L1084.8,148.6 L1086.3,149.1 L1087.8,149.7 L1089.3,150.2 L1090.8,150.8 L1092.3,151.4 L1093.8,152.0 L1095.3,152.6 L1096.8,153.2 L1098.3,153.8 L1099.8,154.5 L1101.3,155.1 L1102.8,155.7 L1104.3,156.3 L1105.8,157.0 L1107.3,157.6 L1108.8,158.2 L1110.3,158.8 L1111.8,159.4 L1113.3,160.0 L1114.8,160.6 L1116.3,161.2 L1117.8,161.8 L1119.3,162.4 L1120.8,162.9 L1122.3,163.5 L1123.8,164.0 L1125.3,164.5 L1126.8,165.1 L1128.3,165.6 L1129.8,166.1 L1131.3,166.6 L1132.8,167.0 L1134.3,167.5 L1135.8,167.9 L1137.3,168.4 L1138.8,168.8 L1140.3,169.2 L1141.8,169.7 L1143.3,170.1 L1144.8,170.5 L1146.3,170.9 L1147.8,171.3 L1149.3,171.7 L1150.8,172.2 L1152.3,172.6 L1153.8,173.0 L1155.3,173.5 L1156.8,174.0 L1158.3,174.4 L1159.8,174.9 L1161.3,175.5 L1162.8,176.0 L1164.3,176.5 L1165.8,177.1 L1167.3,177.7 L1168.8,178.3 L1170.3,178.9 L1171.8,179.5 L1173.3,180.2 L1174.8,180.8 L1176.3,181.5 L1177.8,182.2 L1179.3,182.9 L1180.8,183.6 L1182.3,184.3 L1183.8,185.0 L1185.3,185.8 L1186.8,186.5 L1188.3,187.3 L1189.8,188.0 L1191.3,188.8 L1192.8,189.6 L1194.3,190.3 L1195.8,191.1 L1197.3,191.9 L1198.8,192.7 L1200.3,193.5 L1201.8,194.4 L1203.3,195.2 L1204.8,196.0 L1206.3,196.8 L1207.8,197.6 L1209.3,198.5 L1210.8,199.3 L1212.3,200.1 L1213.8,201.0 L1215.3,201.8 L1216.8,202.6 L1218.3,203.5 L1219.8,204.3 L1221.3,205.1 L1222.8,205.9 L1224.3,206.8 L1225.8,207.6 L1227.3,208.4 L1228.8,209.2 L1230.3,210.0 L1231.8,210.8 L1233.3,211.6 L1234.8,212.4 L1236.3,213.2 L1237.8,213.9 L1239.3,214.7 L1240.8,215.5 L1242.3,216.2 L1243.8,217.0 L1245.3,217.7 L1246.8,218.4 L1248.3,219.1 L1249.8,219.8 L1251.3,220.5 L1252.8,221.2 L1254.3,221.8 L1255.8,222.5 L1257.3,223.1 L1258.8,223.7 L1260.3,224.3 L1261.8,224.9 L1263.3,225.5 L1264.8,226.1 L1266.3,226.6 L1267.8,227.1 L1269.3,227.6 L1270.8,228.1 L1272.0,228.5" stroke-width="7.0"/>
</g>
<rect x="214.0" y="36.0" width="1058.0" height="667.0" fill="none" stroke="#000" stroke-width="4"/>
<text x="190.5" y="671.9" font-size="62.5" text-anchor="end">0</text>
<text x="190.5" y="569.4" font-size="62.5" text-anchor="end">0.5</text>
<text x="190.5" y="466.9" font-size="62.5" text-anchor="end">1.0</text>
<text x="190.5" y="364.4" font-size="62.5" text-anchor="end">1.5</text>
<text x="190.5" y="260.4" font-size="62.5" text-anchor="end">2.0</text>
<text x="190.5" y="158.4" font-size="62.5" text-anchor="end">2.5</text>
<text x="190.5" y="55.9" font-size="62.5" text-anchor="end">3.0</text>
<text x="207.0" y="767.8" font-size="62.5">20</text>
<text x="323.3" y="767.8" font-size="62.5">10</text>
<text x="449.1" y="767.8" font-size="62.5" text-anchor="middle">0</text>
<text x="565.1" y="767.8" font-size="62.5" text-anchor="middle">10</text>
<text x="683.2" y="767.8" font-size="62.5" text-anchor="middle">20</text>
<text x="800.3" y="767.8" font-size="62.5" text-anchor="middle">30</text>
<text x="919.0" y="767.8" font-size="62.5" text-anchor="middle">40</text>
<text x="1035.0" y="767.8" font-size="62.5" text-anchor="middle">50</text>
<text x="1153.7" y="767.8" font-size="62.5" text-anchor="middle">60</text>
<text x="1270.0" y="767.8" font-size="62.5" text-anchor="middle">70</text>
<path d="M166.6,752.0 H202.1 M282.9,752.0 H318.4" stroke="#000" stroke-width="2.6" stroke-linecap="round" fill="none"/>
<text transform="translate(667.83,860.30) scale(0.9877,1)" font-size="64.45" font-style="italic">T</text>
<path d="M713.6,866.8 L716.9,866.8 L738.7,816.2 L735.4,816.2 Z" fill="#000"/>
<circle cx="762.75" cy="826.05" r="8.1" fill="none" stroke="#000" stroke-width="1.8"/>
<text transform="translate(773.41,860.56) scale(1.0427,1)" font-size="65.19">C</text>
<text transform="translate(65.94,469.95) rotate(-90) scale(1.2022,1)" font-size="57.29" font-style="italic">σ</text>
<path d="M22.6,403.2 L22.6,406.7 L73.1,428.5 L73.1,425 Z" fill="#000"/>
<text transform="translate(66.50,392.67) rotate(-90) scale(1.0111,1)" font-size="64.14">M</text>
<text transform="translate(66.50,335.67) rotate(-90) scale(1.0654,1)" font-size="64.14">P</text>
<text transform="translate(65.92,299.66) rotate(-90) scale(1.1275,1)" font-size="59.50">a</text>
<rect x="830" y="475" width="420" height="206.3" rx="23.5" ry="23.5" fill="#fff" stroke="#000" stroke-width="3.6"/>
<path d="M837,508h102v7h-102z M837,575h18v7h-18z M872,575h18v7h-18z M908,575h18v7h-18z M837,641.2h8v7.4h-8z M869,641.2h7v7.4h-7z M900,641.2h7v7.4h-7z M931,641.2h7v7.4h-7z" fill="#000"/>
<text transform="translate(954.74,523.30) scale(0.9888,1)" font-size="50.40" font-style="italic">T</text>
<text transform="translate(981.06,532.93) scale(1.1373,1)" font-size="37.38">d</text>
<text transform="translate(1002.38,532.51) scale(1.2245,1)" font-size="38.94">,</text>
<text transform="translate(1012.45,532.90) scale(1.0027,1)" font-size="37.33">l</text>
<text transform="translate(1022.12,533.34) scale(1.1413,1)" font-size="36.39">o</text>
<text transform="translate(1042.86,532.55) scale(1.1082,1)" font-size="35.63">w</text>
<path d="M1084.8,505.6 H1116 M1084.8,515.3 H1116" stroke="#000" stroke-width="2.1" stroke-linecap="round" fill="none"/>
<text transform="translate(1123.97,523.31) scale(1.0009,1)" font-size="50.68">0</text>
<circle cx="1167.45" cy="496.45" r="6.55" fill="none" stroke="#000" stroke-width="1.35"/>
<text transform="translate(1175.77,523.29) scale(1.0426,1)" font-size="52.09">C</text>
<text transform="translate(954.74,590.30) scale(0.9888,1)" font-size="50.40" font-style="italic">T</text>
<text transform="translate(981.06,599.93) scale(1.1373,1)" font-size="37.38">d</text>
<text transform="translate(1002.38,599.51) scale(1.2245,1)" font-size="38.94">,</text>
<text transform="translate(1012.45,599.90) scale(1.0027,1)" font-size="37.33">l</text>
<text transform="translate(1022.12,600.34) scale(1.1413,1)" font-size="36.39">o</text>
<text transform="translate(1042.86,599.55) scale(1.1082,1)" font-size="35.63">w</text>
<path d="M1084.8,572.6 H1116 M1084.8,582.3 H1116" stroke="#000" stroke-width="2.1" stroke-linecap="round" fill="none"/>
<text transform="translate(1123.76,590.30) scale(0.9660,1)" font-size="49.99">1</text>
<text transform="translate(1147.65,590.31) scale(1.0102,1)" font-size="50.68">0</text>
<circle cx="1190.95" cy="563.45" r="6.55" fill="none" stroke="#000" stroke-width="1.35"/>
<text transform="translate(1199.27,590.29) scale(1.0426,1)" font-size="52.09">C</text>
<text transform="translate(954.74,656.90) scale(0.9888,1)" font-size="50.40" font-style="italic">T</text>
<text transform="translate(981.06,666.53) scale(1.1373,1)" font-size="37.38">d</text>
<text transform="translate(1002.38,666.11) scale(1.2245,1)" font-size="38.94">,</text>
<text transform="translate(1012.45,666.50) scale(1.0027,1)" font-size="37.33">l</text>
<text transform="translate(1022.12,666.94) scale(1.1413,1)" font-size="36.39">o</text>
<text transform="translate(1042.86,666.15) scale(1.1082,1)" font-size="35.63">w</text>
<path d="M1084.8,639.2 H1116 M1084.8,648.9 H1116" stroke="#000" stroke-width="2.1" stroke-linecap="round" fill="none"/>
<text transform="translate(1123.32,656.90) scale(1.0861,1)" font-size="49.84">2</text>
<text transform="translate(1147.65,656.91) scale(1.0102,1)" font-size="50.68">0</text>
<circle cx="1190.95" cy="630.05" r="6.55" fill="none" stroke="#000" stroke-width="1.35"/>
<text transform="translate(1199.27,656.89) scale(1.0426,1)" font-size="52.09">C</text>
</svg></body></html>
